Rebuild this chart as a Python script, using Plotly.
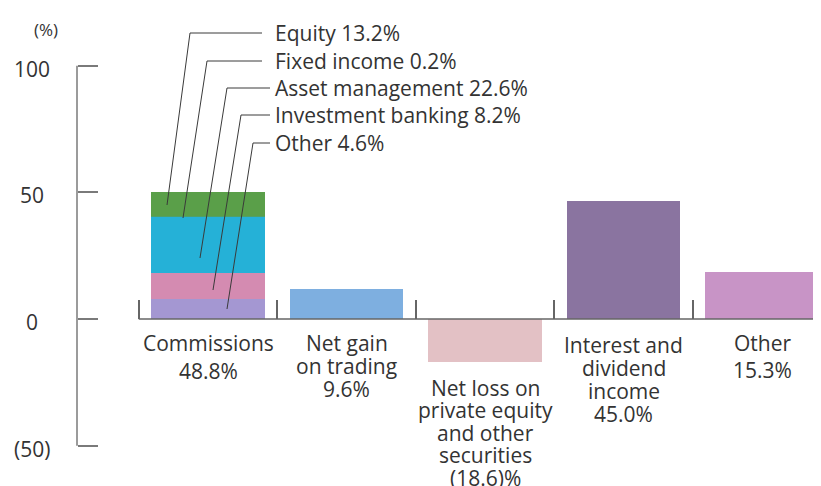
import plotly.graph_objects as go

# ---------------- data ----------------
categories = ["Commissions", "Net gain on trading",
              "Net loss on private equity and other securities",
              "Interest and dividend income", "Other"]
category_label_lines = [
    ["Commissions", "48.8%"],
    ["Net gain", "on trading", "9.6%"],
    ["Net loss on", "private equity", "and other", "securities", "(18.6)%"],
    ["Interest and", "dividend", "income", "45.0%"],
    ["Other", "15.3%"],
]
# Commissions breakdown, bottom -> top (bar heights as drawn in the picture)
commission_parts = ["Other", "Investment banking", "Asset management", "Fixed income", "Equity"]
commission_part_labels = ["Other 4.6%", "Investment banking 8.2%", "Asset management 22.6%",
                          "Fixed income 0.2%", "Equity 13.2%"]
commission_part_values = [7.9, 10.3, 22.1, 0.2, 9.8]
# remaining categories (bar heights as drawn in the picture)
other_category_values = [11.9, -16.9, 46.4, 18.5]
y_tick_values = [100, 50, 0, -50]
y_tick_labels = ["100", "50", "0", "(50)"]

# ---------------- styling ----------------
commission_colors = ["#a497d2", "#d48bb1", "#25b1d7", "#4fa06a", "#5a9f49"]
other_category_colors = ["#7eafe0", "#e3c1c5", "#8a74a0", "#c894c6"]
TEXT = "#333333"
AXIS = "#7a7a7a"
FONT = "Open Sans"
FS = 21

PAGE_OFF = 8                      # default page body margin
W, H = 821 - PAGE_OFF, 486 - PAGE_OFF
X0PX, XSTEP = 208.0, 138.5        # page pixel of category 0 centre, pixels per category
Y0PX, YSTEP = 319.0, 2.5333       # page pixel of value 0, pixels per unit
x_range = [(PAGE_OFF - X0PX) / XSTEP, (PAGE_OFF + W - X0PX) / XSTEP]
y_range = [(Y0PX - PAGE_OFF - H) / YSTEP, (Y0PX - PAGE_OFF) / YSTEP]


def px_x(p):
    return (p - X0PX) / XSTEP


def px_y(p):
    return (Y0PX - p) / YSTEP


BAR_W = 0.816
fig = go.Figure()
for name, val, col in zip(commission_parts, commission_part_values, commission_colors):
    fig.add_trace(go.Bar(x=[0], y=[val], name=name, marker=dict(color=col, line=dict(width=0)),
                         width=BAR_W, showlegend=False, hoverinfo="skip"))
fig.add_trace(go.Bar(x=list(range(1, len(categories))), y=other_category_values,
                     marker=dict(color=other_category_colors, line=dict(width=0)),
                     width=BAR_W, showlegend=False, hoverinfo="skip"))

shapes = []
annotations = []

# y axis line (-50 .. 100) and x axis line from first separator
yax_x = px_x(77)
shapes.append(dict(type="line", xref="x", yref="y", x0=yax_x, x1=yax_x,
                   y0=min(y_tick_values), y1=max(y_tick_values),
                   line=dict(color=AXIS, width=1.5)))
shapes.append(dict(type="line", xref="x", yref="y", x0=-0.5, x1=x_range[1], y0=0, y1=0,
                   line=dict(color="#666666", width=1.5)))

# y tick labels (centred)
for v, t in zip(y_tick_values, y_tick_labels):
    annotations.append(dict(x=px_x(32), y=v, xref="x", yref="y", text=t, showarrow=False,
                            xanchor="center", yanchor="middle", yshift=-3,
                            font=dict(family=FONT, size=FS, color=TEXT)))
annotations.append(dict(x=px_x(46), y=px_y(29), xref="x", yref="y", text="(%)", showarrow=False,
                        xanchor="center", yanchor="middle",
                        font=dict(family=FONT, size=17, color=TEXT)))

# category labels, one annotation per line
first_center = [342.5, 342.5, 387.5, 344.5, 342.5]
line_step = [28, 23, 22.5, 23.3, 27]
for i, lines in enumerate(category_label_lines):
    for j, ln in enumerate(lines):
        annotations.append(dict(x=i, y=px_y(first_center[i] + j * line_step[i]), xref="x", yref="y",
                                text=ln, showarrow=False, xanchor="center", yanchor="middle",
                                font=dict(family=FONT, size=FS, color=TEXT)))

# callout labels with leader lines (top -> bottom: Equity ... Other)
order = list(reversed(range(len(commission_parts))))
end_px = [(167, 205), (183, 218), (200, 258), (213, 290), (227, 309)]
corner_px = [(190, 33), (207, 61), (227, 88), (241, 115), (253, 143)]
hend_px = [262, 262, 270, 270, 270]
for k, idx in enumerate(order):
    ex, ey = end_px[k]
    cx, cy = corner_px[k]
    path = "M {} {} L {} {} L {} {}".format(px_x(ex), px_y(ey), px_x(cx), px_y(cy),
                                          px_x(hend_px[k]), px_y(cy))
    shapes.append(dict(type="path", xref="x", yref="y", path=path,
                       line=dict(color="#3a3a3a", width=1)))
    annotations.append(dict(x=px_x(273), y=px_y(cy), xref="x", yref="y",
                            text=commission_part_labels[idx], showarrow=False,
                            xanchor="left", yanchor="middle",
                            font=dict(family=FONT, size=FS, color=TEXT)))

fig.update_layout(
    width=W, height=H, margin=dict(l=0, r=0, t=0, b=0),
    paper_bgcolor="white", plot_bgcolor="white",
    barmode="relative", bargap=0,
    shapes=shapes, annotations=annotations,
    xaxis=dict(range=x_range, showgrid=False, zeroline=False, showline=False,
               tickvals=[-0.5, 0.5, 1.5, 2.5, 3.5, 4.5], ticks="inside", ticklen=19,
               tickcolor="#666666", tickwidth=1.5, showticklabels=False,
               anchor="free", position=(PAGE_OFF + H - Y0PX) / H),
    yaxis=dict(range=y_range, showgrid=False, zeroline=False, showline=False,
               tickvals=y_tick_values, ticks="inside", ticklen=20,
               tickcolor=AXIS, tickwidth=1.5, showticklabels=False,
               anchor="free", position=(77 - PAGE_OFF) / W),
    font=dict(family=FONT, color=TEXT),
)

fig.write_html("out.html")
